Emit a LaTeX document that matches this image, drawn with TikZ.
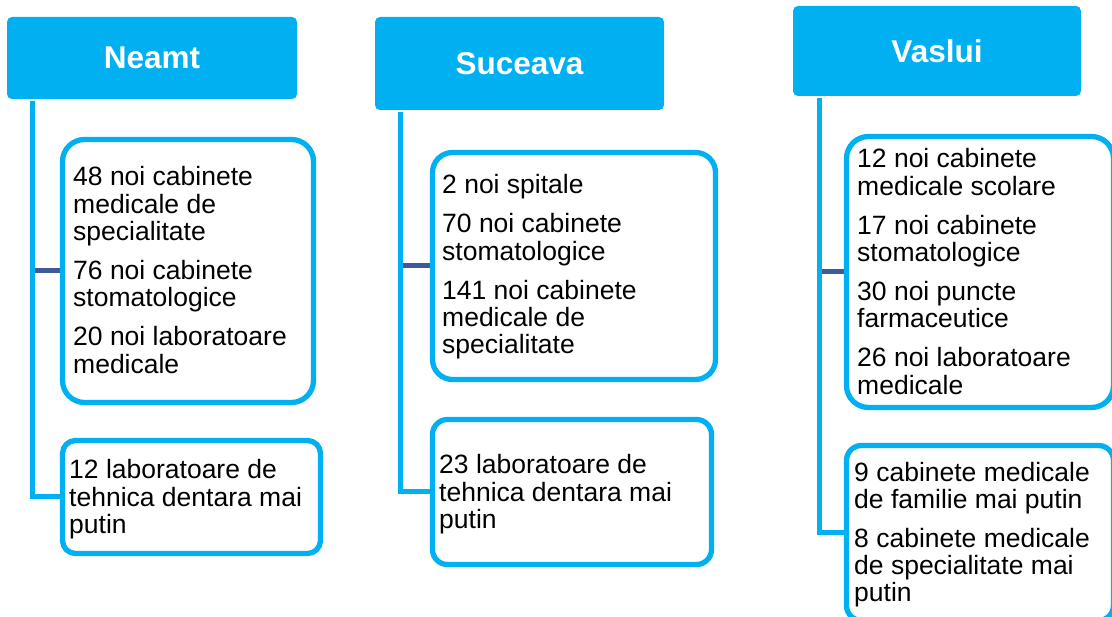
\documentclass[tikz,border=0pt]{standalone}
\usepackage{fontspec}
\setmainfont{Liberation Sans}
\usetikzlibrary{backgrounds}
\definecolor{lblue}{HTML}{00B0F0}
\definecolor{dblue}{RGB}{61,90,158}
\tikzset{
  hdr/.style={rectangle, rounded corners=5pt, fill=lblue, draw=none, text=white,
    font=\fontsize{31.5}{33}\selectfont\bfseries, inner sep=0pt},
  bx/.style={rectangle, draw=lblue, line width=5.3pt, fill=white, inner sep=0pt},
  txt/.style={anchor=base west, align=left, inner sep=0pt, text=black,
    font=\fontsize{26.5}{27.3}\selectfont},
  trunk/.style={draw=lblue, line width=5pt},
  stub/.style={draw=dblue, line width=5pt}
}
\begin{document}
\begin{tikzpicture}[x=1pt,y=-1pt]
\useasboundingbox (0,0) rectangle (1112,617);
\clip (0,0) rectangle (1112,617);
% headers
\node[hdr, minimum width=290pt, minimum height=82pt] (hN) at (152,58) {Neamt};
\node[hdr, minimum width=289pt, minimum height=93pt] (hS) at (519.5,63.5) {Suceava};
\node[hdr, minimum width=288pt, minimum height=90pt] (hV) at (937,51) {Vaslui};
% boxes
\node[bx, rounded corners=22pt, minimum width=251pt, minimum height=263pt] (bN1) at (188,271) {};
\node[bx, rounded corners=13pt, minimum width=258pt, minimum height=113pt] (bN2) at (191.5,497) {};
\node[bx, rounded corners=20pt, minimum width=283pt, minimum height=227pt] (bS1) at (574,266) {};
\node[bx, rounded corners=15pt, minimum width=279pt, minimum height=145pt] (bS2) at (572,492) {};
\node[bx, rounded corners=22pt, minimum width=267pt, minimum height=271pt] (bV1) at (980,272) {};
\node[bx, rounded corners=15pt, minimum width=267pt, minimum height=175pt] (bV2) at (980,533) {};
% trunk coordinates
\coordinate (tN) at ([xshift=26pt,yshift=-2pt]hN.south west);
\coordinate (tS) at ([xshift=26pt,yshift=-2pt]hS.south west);
\coordinate (tV) at ([xshift=27pt,yshift=-2pt]hV.south west);
\begin{scope}[on background layer]
  \draw[stub] (bN1.west -| tN) -- (bN1.west);
  \draw[stub] (bS1.west -| tS) -- (bS1.west);
  \draw[stub] (bV1.west -| tV) -- (bV1.west);
  \draw[trunk] (tN) |- (bN2.west);
  \draw[trunk] (tS) |- (bS2.west);
  \draw[trunk] (tV) |- (bV2.west);
\end{scope}
% texts (anchored at the baseline of their last line)
\node[txt] (xN1) at (73,373.2) {48 noi cabinete\\medicale de\\specialitate\\[11.7pt]76 noi cabinete\\stomatologice\\[11.7pt]20 noi laboratoare\\medicale};
\node[txt] (xN2) at (69,533.6) {12 laboratoare de\\tehnica dentara mai\\putin};
\node[txt] (xS1) at (442,353.9) {2 noi spitale\\[11.7pt]70 noi cabinete\\stomatologice\\[11.7pt]141 noi cabinete\\medicale de\\specialitate};
\node[txt] (xS2) at (439,528.6) {23 laboratoare de\\tehnica dentara mai\\putin};
\node[txt] (xV1) at (857,394.2) {12 noi cabinete\\medicale scolare\\[11.7pt]17 noi cabinete\\stomatologice\\[11.7pt]30 noi puncte\\farmaceutice\\[11.7pt]26 noi laboratoare\\medicale};
\node[txt] (xV2) at (854,601.9) {9 cabinete medicale\\de familie mai putin\\[11.7pt]8 cabinete medicale\\de specialitate mai\\putin};
\end{tikzpicture}
\end{document}
